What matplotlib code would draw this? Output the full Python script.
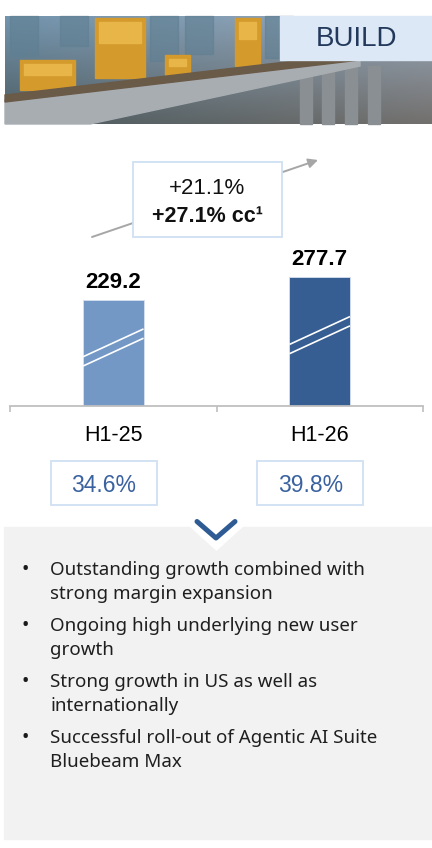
import numpy as np
import matplotlib
matplotlib.use('Agg')
import matplotlib.pyplot as plt
from matplotlib.patches import Rectangle, Polygon

# ----- data -------
periods = ['H1-25', 'H1-26']
revenue = [229.2, 277.7]
margins = ['34.6%', '39.8%']
growth_lines = ['+21.1%', '+27.1% cc\u00b9']
bullets = [
    ['Outstanding growth combined with', 'strong margin expansion'],
    ['Ongoing high underlying new user', 'growth'],
    ['Strong growth in US as well as', 'internationally'],
    ['Successful roll-out of Agentic AI Suite', 'Bluebeam Max'],
]
segment = 'BUILD'

# colours
bar_colors = ['#7498c5', '#375e92']
margin_blue = '#3a62a0'
box_edge = '#cfe0f3'
panel_gray = '#f2f2f2'
chart_font = 'Liberation Sans'
text_font = 'Noto Sans'

W, H = 432, 848
fig = plt.figure(figsize=(W / 100, H / 100), dpi=100)

# background axes in pixel coordinates for decoration
bg = fig.add_axes([0, 0, 1, 1])
bg.set_xlim(0, W)
bg.set_ylim(H, 0)
bg.axis('off')

# ----- header picture (stand-in for the photo) -------
sky = np.linspace(0, 1, 60)[:, None] * np.ones((1, 200))
cols = np.linspace(0, 1, 200)[None, :] * np.ones((60, 1))
img = np.zeros((60, 200, 3))
img[..., 0] = 0.45 + 0.15 * cols - 0.15 * sky
img[..., 1] = 0.58 + 0.08 * cols - 0.22 * sky
img[..., 2] = 0.68 + 0.05 * cols - 0.30 * sky
bg.imshow(np.clip(img, 0, 1), extent=(5, 432, 124, 16), aspect='auto', zorder=1)
# tower blocks in the background
for bx, bh in [(10, 40), (60, 30), (150, 45), (185, 38), (265, 42)]:
    bg.add_patch(Rectangle((bx, 16), 28, bh, color='#5f7f92', alpha=0.6, zorder=1.5))
# cranes / machinery
for x0, y0, w, h in [(95, 18, 50, 60), (235, 18, 25, 48), (20, 60, 55, 30), (165, 55, 25, 20)]:
    bg.add_patch(Rectangle((x0, y0), w, h, color='#d49a2c', zorder=2))
    bg.add_patch(Rectangle((x0 + 4, y0 + 4), w - 8, h * 0.35, color='#e8b548', zorder=2))
# bridge deck
bg.add_patch(Polygon([[5, 100], [5, 124], [90, 124], [360, 66], [360, 60], [320, 60]],
                     closed=True, color='#a8adb2', zorder=3))
bg.add_patch(Polygon([[5, 95], [320, 58], [360, 60], [5, 102]], closed=True,
                     color='#6a5a48', zorder=3))
for px in [300, 322, 345, 368]:
    bg.add_patch(Rectangle((px, 66), 12, 58, color='#8a8f94', zorder=2))
# segment label
bg.add_patch(Rectangle((280, 16), 152, 44, color='#dce8f5', zorder=4))
bg.text(357, 38.5, segment, fontsize=20, family=chart_font, color='#22395c',
        ha='center', va='center', zorder=5)

# ----- growth callout -------
bg.annotate('', xy=(318, 160), xytext=(92, 237),
            arrowprops=dict(arrowstyle='-|>', color='#a6a6a6', lw=1.4,
                            mutation_scale=14, shrinkA=0, shrinkB=0), zorder=2)
bg.add_patch(Rectangle((133, 162), 149, 75, facecolor='white', edgecolor=box_edge,
                       lw=1.3, zorder=3))
bg.text(207.5, 194, growth_lines[0], fontsize=16, family=chart_font, color='#111111',
        ha='center', va='baseline', zorder=4)
bg.text(207, 222, growth_lines[1], fontsize=15.5, family=chart_font, fontweight='bold',
        color='#111111', ha='center', va='baseline', zorder=4)

# ----- bar chart -------
px_per_unit = 0.464
ymax = 300
ax_left, ax_right, base_y = 10, 423, 406
ax = fig.add_axes([ax_left / W, (H - base_y) / H, (ax_right - ax_left) / W,
                   ymax * px_per_unit / H])
ax.set_xlim(-0.5, 1.5)
ax.set_ylim(0, ymax)
ax.patch.set_alpha(0)
x = np.arange(len(periods))
bw = 0.293
bars = ax.bar(x, revenue, width=bw, color=bar_colors, edgecolor='#d6e1ef',
              linewidth=0.6, zorder=2)

# axis break marks
for xi, v in zip(x, revenue):
    mid = 0.55 * v
    for off in (-10, 10):
        ax.plot([xi - bw / 2, xi + bw / 2], [mid + off - 30, mid + off + 30],
                color='white', lw=1.2, zorder=3, solid_capstyle='butt')

for xi, v in zip(x, revenue):
    ax.annotate(f'{v:.1f}', xy=(xi, v), xytext=(0, 12), textcoords='offset pixels',
                ha='center', va='baseline', fontsize=16, fontweight='bold',
                family=chart_font, color='#000000', annotation_clip=False)

for s in ['top', 'left', 'right']:
    ax.spines[s].set_visible(False)
ax.spines['bottom'].set_color('#bfbfbf')
ax.spines['bottom'].set_linewidth(1.3)
ax.set_yticks([])
ax.set_xticks([-0.5, 0.5, 1.5])
ax.set_xticklabels([])
ax.tick_params(axis='x', which='major', length=4.5, width=1.2, color='#bfbfbf',
               direction='out')
ax.set_xticks(x, minor=True)
ax.set_xticklabels(periods, minor=True, fontsize=15.5, family=chart_font)
ax.tick_params(axis='x', which='minor', length=0, pad=14)

# ----- margin boxes -------
for xi, m in zip(x, margins):
    cx = ax_left + (xi + 0.5) / 2 * (ax_right - ax_left) - 9.5
    bg.add_patch(Rectangle((cx - 53, 460.5), 106, 44.5, facecolor='white',
                           edgecolor=box_edge, lw=1.3, zorder=3))
    bg.text(cx, 492.3, m, fontsize=16.5, family=chart_font, color=margin_blue,
            ha='center', va='baseline', zorder=4)

# ----- commentary panel -------
bg.add_patch(Rectangle((4, 526.5), 428, 312, color=panel_gray, zorder=1))
bg.add_patch(Polygon([[190, 526], [243, 526], [216.5, 550]], closed=True,
                     color='white', zorder=2))
bg.plot([197, 216, 235], [521.5, 538, 521.5], color='#2f5b94', lw=3.6,
        solid_capstyle='round', solid_joinstyle='round', zorder=3)

y0 = 575
for item in bullets:
    bg.text(25, y0, '\u2022', fontsize=14, family=text_font, color='#1a1a1a',
            ha='center', va='baseline', zorder=4)
    for j, line in enumerate(item):
        bg.text(50, y0 + 24 * j, line, fontsize=13.5, family=text_font,
                color='#1f1f1f', ha='left', va='baseline', zorder=4)
    y0 += 56

fig.savefig('out.png', dpi=100)
